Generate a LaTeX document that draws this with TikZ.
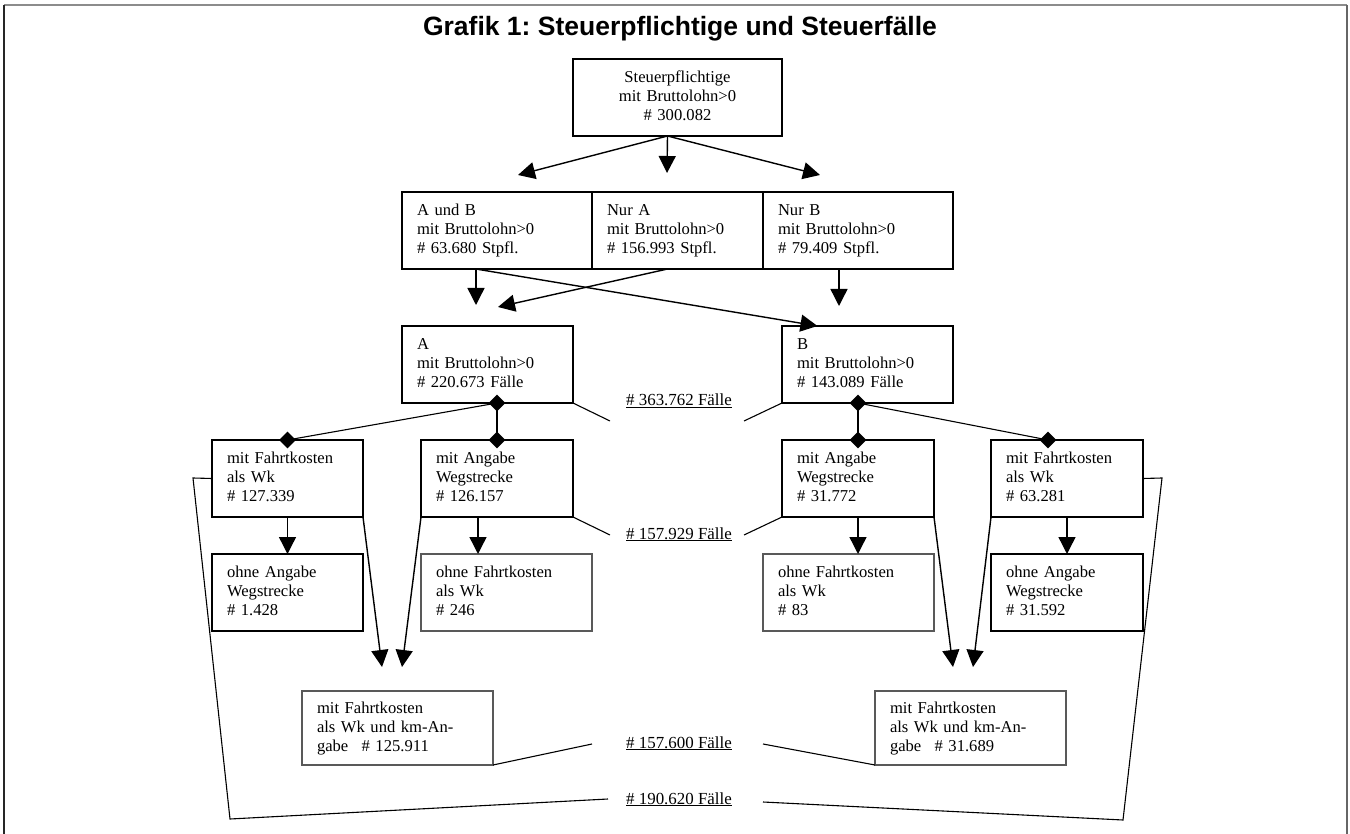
\documentclass[tikz,border=0pt]{standalone}
\usepackage{fontspec}
\setmainfont{Liberation Serif}
\setsansfont{Liberation Sans}
\usetikzlibrary{arrows.meta,shapes.geometric}
\frenchspacing

\tikzset{
  kasten/.style={draw, line width=1.3pt, anchor=north west, outer sep=0pt,
    inner xsep=15pt, inner ysep=0pt, minimum height=77pt, text width=#1,
    align=left, text height=12pt, text depth=42pt,
    font=\fontsize{16.6}{19}\selectfont},
  grau/.style={draw=black!65},
  pfeil/.style={line width=1.4pt, -{Triangle[length=17pt,width=17pt]}},
  linie/.style={line width=1.1pt},
  karo/.style={diamond, fill, inner sep=0pt, minimum width=17pt, minimum height=17pt},
  zahl/.style={anchor=base, font=\fontsize{16.9}{19}\selectfont}
}

\begin{document}
\begin{tikzpicture}[x=1pt,y=-1pt]
\useasboundingbox (0,0) rectangle (1350,834);
% Rahmen
\draw[line width=1.5pt, black!45] (4,5) -- (1347,5);
\draw[line width=1.5pt, black!85] (4,5) -- (4,834);
\draw[line width=1.5pt, black!60] (1347,5) -- (1347,834);
\node[anchor=base, font=\sffamily\bfseries\fontsize{26.5}{30}\selectfont] (titel) at (680,36)
  {Grafik 1: Steuerpflichtige und Steuerfälle};

% Kaesten
\node[kasten=179pt, align=center] (steuer) at (573,59) {Steuerpflichtige\\mit Bruttolohn>0\\\# 300.082};
\node[kasten=160pt] (ab) at (402,192) {A und B\\mit Bruttolohn>0\\\# 63.680 Stpfl.};
\node[kasten=141pt] (nurA) at (592,192) {Nur A\\mit Bruttolohn>0\\\# 156.993 Stpfl.};
\node[kasten=160pt] (nurB) at (763,192) {Nur B\\mit Bruttolohn>0\\\# 79.409 Stpfl.};
\node[kasten=141pt] (A) at (402,326) {A\\mit Bruttolohn>0\\\# 220.673 Fälle};
\node[kasten=141pt] (B) at (782,326) {B\\mit Bruttolohn>0\\\# 143.089 Fälle};
\node[kasten=121pt] (fahrtA) at (212,440) {mit Fahrtkosten\\als Wk\\\# 127.339};
\node[kasten=122pt] (wegA) at (421,440) {mit Angabe\\Wegstrecke\\\# 126.157};
\node[kasten=122pt] (wegB) at (782,440) {mit Angabe\\Wegstrecke\\\# 31.772};
\node[kasten=122pt] (fahrtB) at (991,440) {mit Fahrtkosten\\als Wk\\\# 63.281};
\node[kasten=121pt] (ohneWegA) at (212,554) {ohne Angabe\\Wegstrecke\\\# 1.428};
\node[kasten=141pt, grau] (ohneFA) at (421,554) {ohne Fahrtkosten\\als Wk\\\# 246};
\node[kasten=141pt, grau] (ohneFB) at (763,554) {ohne Fahrtkosten\\als Wk\\\# 83};
\node[kasten=122pt] (ohneWegB) at (991,554) {ohne Angabe\\Wegstrecke\\\# 31.592};
\node[kasten=161pt, grau, minimum height=74pt] (kmA) at (302,691) {mit Fahrtkosten\\als Wk und km-An-\\gabe\hspace{0.8em}\# 125.911};
\node[kasten=161pt, grau, minimum height=74pt] (kmB) at (875,691) {mit Fahrtkosten\\als Wk und km-An-\\gabe\hspace{0.8em}\# 31.689};

% Summen
\node[zahl] (f1) at (679,406) {\underline{\# 363.762 Fälle}};
\node[zahl] (f2) at (679,539) {\underline{\# 157.929 Fälle}};
\node[zahl] (f3) at (679,748) {\underline{\# 157.600 Fälle}};
\node[zahl] (f4) at (679,804) {\underline{\# 190.620 Fälle}};

% freie Enden
\coordinate (z1) at (518,175);
\coordinate (z2) at (667,173);
\coordinate (z3) at (820,175);
\coordinate (r1) at (476,305);
\coordinate (r2) at (498,307);
\coordinate (r3) at (839,306);
\coordinate (k1) at (382,667);
\coordinate (k2) at (402,667);
\coordinate (k3) at (953,667);
\coordinate (k4) at (973,667);
\coordinate (a1) at (610,421);
\coordinate (a2) at (744,421);
\coordinate (b1) at (610,535);
\coordinate (b2) at (744,535);
\coordinate (c1) at (592,744);
\coordinate (c2) at (763,744);
\coordinate (u1) at (608,799);
\coordinate (u2) at (230,819);
\coordinate (u3) at (193,478);
\coordinate (v1) at (763,802);
\coordinate (v2) at (1123,820);
\coordinate (v3) at (1162,478);

% Pfeile oben
\foreach \z in {z1,z2,z3}
\draw[pfeil] ([xshift=-10pt]steuer.south) -- (\z);
\draw[pfeil] ([xshift=-21pt]ab.south) -- (r1);
\draw[pfeil] ([xshift=-21pt]ab.south) -- ([xshift=-50pt]B.north);
\draw[pfeil] ([xshift=-10pt]nurA.south) -- (r2);
\draw[pfeil] ([xshift=-19pt]nurB.south) -- (r3);

% Rauten
\coordinate (dA) at (wegA.north |- A.south);
\coordinate (dB) at (wegB.north |- B.south);
\coordinate (dF) at ([xshift=-19pt]fahrtB.north);
\draw[linie] (dA) -- (fahrtA.north);
\draw[linie] (dA) -- (wegA.north);
\draw[linie] (dB) -- (wegB.north);
\draw[linie] (dB) -- (dF);
\foreach \p in {dA,dB,dF,fahrtA.north,wegA.north,wegB.north}
\node[karo] at (\p) {};

% Pfeile unten
\coordinate (h1) at ([xshift=-19pt]wegA.south);
\draw[pfeil] (fahrtA.south) -- (ohneWegA.north);
\draw[pfeil] (h1) -- (h1 |- ohneFA.north);
\draw[pfeil] (wegB.south) -- (wegB.south |- ohneFB.north);
\draw[pfeil] (fahrtB.south) -- (ohneWegB.north);
\draw[pfeil] (fahrtA.south east) -- (k1);
\draw[pfeil] (wegA.south west) -- (k2);
\draw[pfeil] (wegB.south east) -- (k3);
\draw[pfeil] (fahrtB.south west) -- (k4);

% Linien zu den Summen
\draw[linie] (A.south east) -- (a1);
\draw[linie] (a2) -- (B.south west);
\draw[linie] (wegA.south east) -- (b1);
\draw[linie] (b2) -- (wegB.south west);
\draw[linie] (kmA.south east) -- (c1);
\draw[linie] (c2) -- (kmB.south west);
\draw[linie] (fahrtA.west) -- (u3) -- (u2) -- (u1);
\draw[linie] (fahrtB.east) -- (v3) -- (v2) -- (v1);
\end{tikzpicture}
\end{document}
